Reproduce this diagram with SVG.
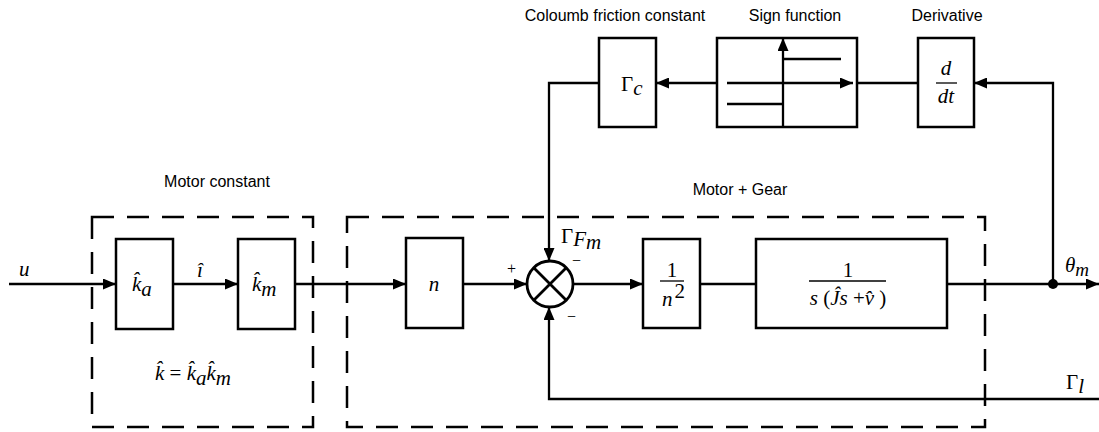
<svg xmlns="http://www.w3.org/2000/svg" width="1099" height="432" viewBox="0 0 1099 432">
<style>
.blk{fill:#fff;stroke:#000;stroke-width:2.5}
.ln{fill:none;stroke:#000;stroke-width:2.3}
.dash{fill:none;stroke:#000;stroke-width:2.5;stroke-dasharray:22 13}
.cap{font-family:"Liberation Sans",Arial,sans-serif;font-size:16px;fill:#000;text-anchor:middle}
.m{font-family:"Liberation Serif","Times New Roman",serif;font-style:italic;font-size:21px;fill:#000}
.r{font-family:"Liberation Serif","Times New Roman",serif;font-size:21px;fill:#000}
.s{font-family:"Liberation Serif","Times New Roman",serif;font-size:16px;fill:#000}
</style>
<defs>
<marker id="ar" markerUnits="userSpaceOnUse" markerWidth="13" markerHeight="11" refX="13" refY="5.5" orient="auto"><path d="M0,0 L13,5.5 L0,11 z" fill="#000"/></marker>
</defs>

<g id="captions">
<text class="cap" x="217" y="187">Motor constant</text>
<text class="cap" x="740" y="195">Motor + Gear</text>
<text class="cap" x="615" y="21">Coloumb friction constant</text>
<text class="cap" x="795" y="21">Sign function</text>
<text class="cap" x="947" y="21">Derivative</text>
</g>

<g id="group-motor-constant">
<rect class="dash" x="92" y="217" width="221" height="210"/>
<text class="m" x="155" y="380">k̂ <tspan class="r" font-style="normal">=</tspan> k̂<tspan dy="5">a</tspan><tspan dy="-5">k̂</tspan><tspan dy="5">m</tspan></text>
</g>
<g id="group-motor-gear">
<rect class="dash" x="347" y="217" width="638" height="210"/>
</g>

<g id="node-ka">
<rect class="blk" x="116" y="239" width="57" height="90"/>
<text class="m" x="132" y="291">k̂<tspan dy="5">a</tspan></text>
</g>
<g id="node-km">
<rect class="blk" x="238" y="239" width="57" height="90"/>
<text class="m" x="252" y="291">k̂<tspan dy="5">m</tspan></text>
</g>
<g id="node-n">
<rect class="blk" x="406" y="238" width="57" height="90"/>
<text class="m" x="434" y="291" text-anchor="middle">n</text>
</g>
<g id="node-sum">
<circle cx="550" cy="284" r="23" fill="#fff" stroke="#000" stroke-width="2.8"/>
<path d="M534,268 L566,300 M566,268 L534,300" stroke="#000" stroke-width="2.8"/>
</g>
<g id="node-n2">
<rect class="blk" x="643" y="239" width="57" height="89"/>
<text class="r" x="672" y="277" text-anchor="middle">1</text>
<line x1="660" y1="281" x2="684" y2="281" stroke="#000" stroke-width="1.3"/>
<text class="m" x="662" y="306">n<tspan class="r" font-style="normal" dx="2" dy="-8">2</tspan></text>
</g>
<g id="node-plant">
<rect class="blk" x="756" y="239" width="191" height="89"/>
<text class="r" x="848" y="277" text-anchor="middle">1</text>
<line x1="809" y1="281" x2="886" y2="281" stroke="#000" stroke-width="1.3"/>
<text class="r" x="848" y="305" text-anchor="middle"><tspan font-style="italic">s</tspan> (<tspan font-style="italic">Ĵs</tspan> +<tspan font-style="italic">v̂</tspan> )</text>
</g>
<g id="node-gc">
<rect class="blk" x="599" y="38" width="57" height="89"/>
<text class="r" x="621" y="91">Γ<tspan class="m" dy="4">c</tspan></text>
</g>
<g id="node-sign">
<rect class="blk" x="717" y="38" width="140" height="89"/>
<line class="ln" x1="783" y1="127" x2="783" y2="38" marker-end="url(#ar)"/>
<line class="ln" x1="727" y1="83" x2="853" y2="83" marker-end="url(#ar)"/>
<line class="ln" x1="783" y1="59" x2="841" y2="59"/>
<line class="ln" x1="727" y1="104" x2="783" y2="104"/>
</g>
<g id="node-deriv">
<rect class="blk" x="918" y="38" width="56" height="89"/>
<text class="m" x="946" y="75" text-anchor="middle">d</text>
<line x1="936" y1="83" x2="957" y2="83" stroke="#000" stroke-width="1.3"/>
<text class="m" x="946" y="103" text-anchor="middle">dt</text>
</g>

<g id="connectors">
<path class="ln" d="M9,284 H116" marker-end="url(#ar)"/>
<path class="ln" d="M173,284 H238" marker-end="url(#ar)"/>
<path class="ln" d="M295,284 H406" marker-end="url(#ar)"/>
<path class="ln" d="M463,284 H527" marker-end="url(#ar)"/>
<path class="ln" d="M573,284 H643" marker-end="url(#ar)"/>
<path class="ln" d="M700,284 H756"/>
<path class="ln" d="M947,284 H1099" marker-end="url(#ar)"/>
<path class="ln" d="M1053,284 V83 H974" marker-end="url(#ar)"/>
<path class="ln" d="M918,83 H857"/>
<path class="ln" d="M717,83 H656" marker-end="url(#ar)"/>
<path class="ln" d="M599,83 H549 V261" marker-end="url(#ar)"/>
<path class="ln" d="M1099,399 H549 V307" marker-end="url(#ar)"/>
<circle cx="1053" cy="284" r="5" fill="#000"/>
</g>

<g id="labels">
<text class="m" x="19" y="276">u</text>
<text class="m" x="197" y="277">î</text>
<text class="s" x="507" y="274">+</text>
<text class="s" x="572" y="266">−</text>
<text class="s" x="567" y="322">−</text>
<text class="r" x="561" y="243" font-size="19">Γ<tspan class="m" font-size="19" dy="3">F</tspan><tspan class="m" font-size="14" dy="3">m</tspan></text>
<text class="m" x="1065" y="272">θ<tspan dy="4" font-size="19">m</tspan></text>
<text class="r" x="1066" y="389">Γ<tspan class="m" dy="4">l</tspan></text>
</g>
</svg>
